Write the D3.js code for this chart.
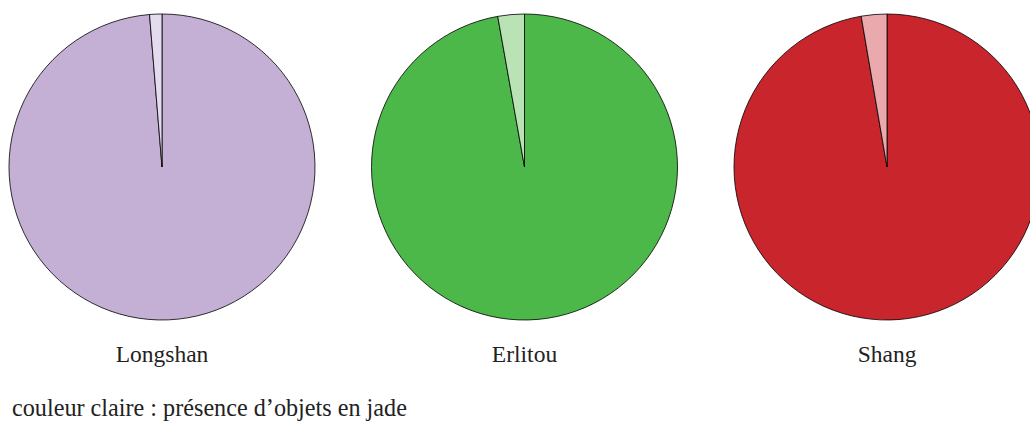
<!DOCTYPE html>
<html>
<head>
<meta charset="utf-8">
<script src="https://cdn.jsdelivr.net/npm/d3@7"></script>
<style>
body { margin: 0; background: #fff; }
svg { display: block; font-family: "Liberation Serif", "Times New Roman", serif; }
</style>
</head>
<body>
<svg></svg>
<script>
var width = 1030;
var height = 423;

var cultures = ["Longshan", "Erlitou", "Shang"];
// share of sites: [sans jade, avec jade] in %
var sansJade = [98.7, 97.2, 97.3];
var avecJade = [1.3, 2.8, 2.7];
var mainColors = ["#c5b0d5", "#4cb84a", "#c8252d"];
var lightColors = ["#e4dbee", "#b9e2b5", "#e9a9ad"];

var radius = 153;
var cy = 167;

var xScale = d3.scalePoint()
    .domain(cultures)
    .range([162, 887]);

var pie = d3.pie().sort(null);
var arc = d3.arc().innerRadius(0).outerRadius(radius);

var svg = d3.select("svg")
    .attr("width", width)
    .attr("height", height);

var groups = svg.selectAll("g.pie")
    .data(cultures)
    .enter()
    .append("g")
    .attr("class", "pie")
    .attr("transform", d => `translate(${xScale(d)},${cy})`);

groups.each(function(d, i) {
    var slices = pie([sansJade[i], avecJade[i]]);
    d3.select(this).selectAll("path")
        .data(slices)
        .enter()
        .append("path")
        .attr("d", arc)
        .attr("fill", (s, j) => j === 0 ? mainColors[i] : lightColors[i])
        .attr("stroke", "#000")
        .attr("stroke-width", 0.8)
        .attr("stroke-linejoin", "round");
});

svg.selectAll("text.label")
    .data(cultures)
    .enter()
    .append("text")
    .attr("class", "label")
    .attr("x", d => xScale(d))
    .attr("y", 362)
    .attr("text-anchor", "middle")
    .attr("font-size", 23.5)
    .attr("fill", "#222")
    .text(d => d);

svg.append("text")
    .attr("x", 12)
    .attr("y", 416)
    .attr("font-size", 24.2)
    .attr("fill", "#222")
    .text("couleur claire : présence d’objets en jade");
</script>
</body>
</html>
